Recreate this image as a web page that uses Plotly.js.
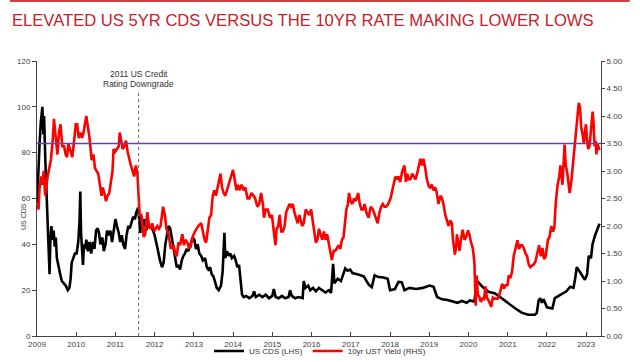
<!DOCTYPE html>
<html>
<head>
<meta charset="utf-8">
<script src="https://cdn.plot.ly/plotly-3.0.1.min.js"></script>
<style>html,body{margin:0;padding:0;background:#fff;}#chart{width:640px;height:362px;}</style>
</head>
<body>
<div id="chart"></div>
<script>
// ---- Data ----
const cdsDates = ['2009-01-02','2009-01-12','2009-01-25','2009-02-05','2009-02-20','2009-03-01','2009-03-08','2009-03-20','2009-04-01','2009-04-10','2009-04-20','2009-04-28','2009-05-05','2009-05-15','2009-05-25','2009-06-05','2009-06-15','2009-06-25','2009-07-05','2009-07-20','2009-08-05','2009-08-20','2009-09-05','2009-09-25','2009-10-15','2009-10-30','2009-11-10','2009-11-20','2009-12-05','2009-12-20',
'2010-01-05','2010-01-20','2010-02-01','2010-02-08','2010-02-15','2010-02-25','2010-03-05','2010-03-15','2010-03-25','2010-04-05','2010-04-20','2010-05-05','2010-05-20','2010-06-05','2010-06-20','2010-07-05','2010-07-20','2010-08-01','2010-08-15','2010-09-01','2010-09-15','2010-10-01','2010-10-15','2010-11-01','2010-11-15','2010-12-01','2010-12-15',
'2011-01-01','2011-01-15','2011-02-01','2011-02-15','2011-03-01','2011-03-15','2011-04-01','2011-04-15','2011-05-01','2011-05-15','2011-06-01','2011-06-15','2011-07-01','2011-07-15','2011-08-01','2011-08-10','2011-08-20','2011-09-01','2011-09-15','2011-10-01','2011-10-15','2011-11-01','2011-11-15','2011-12-01','2011-12-15',
'2012-01-01','2012-01-20','2012-02-05','2012-02-20','2012-03-10','2012-03-25','2012-04-10','2012-04-25','2012-05-10','2012-05-25','2012-06-10','2012-06-25','2012-07-10','2012-07-25','2012-08-10','2012-08-25','2012-09-10','2012-09-25','2012-10-10','2012-10-25','2012-11-10','2012-12-01','2012-12-20',
'2013-01-05','2013-01-20','2013-02-05','2013-02-20','2013-03-10','2013-03-25','2013-04-15','2013-05-01','2013-05-15','2013-06-01','2013-06-15','2013-07-01','2013-07-15','2013-08-01','2013-08-20','2013-09-10','2013-09-25','2013-10-05','2013-10-12','2013-10-20','2013-11-05','2013-11-20','2013-12-05','2013-12-20',
'2014-01-10','2014-01-25','2014-02-10','2014-02-25','2014-03-10','2014-03-25','2014-04-10','2014-05-01','2014-06-01','2014-07-01','2014-07-15','2014-08-01','2014-09-01','2014-10-01','2014-11-01','2014-12-01',
'2015-01-01','2015-01-15','2015-02-01','2015-03-01','2015-04-01','2015-05-01','2015-06-01','2015-06-15','2015-07-01','2015-08-01','2015-09-01','2015-10-10','2015-10-20','2015-11-05','2015-12-01','2015-12-20',
'2016-01-15','2016-02-10','2016-03-10','2016-04-10','2016-05-10','2016-06-10','2016-07-01','2016-07-20','2016-08-01','2016-09-01','2016-10-01','2016-11-10','2016-12-01','2016-12-25',
'2017-01-15','2017-03-01','2017-04-01','2017-05-01','2017-06-15','2017-07-15','2017-08-10','2017-09-15','2017-11-01','2017-12-10',
'2018-01-01','2018-02-15','2018-03-20','2018-04-20','2018-05-15','2018-07-01','2018-09-01','2018-11-01',
'2019-01-05','2019-02-10','2019-03-15','2019-05-01','2019-06-20','2019-08-01','2019-09-20','2019-11-01','2019-12-15',
'2020-01-15','2020-02-25','2020-03-18','2020-04-01','2020-05-10','2020-07-05','2020-09-05','2020-11-05',
'2021-01-05','2021-03-10','2021-05-10','2021-07-10','2021-09-10','2021-09-28','2021-10-15','2021-10-30','2021-11-15','2021-12-01',
'2022-01-01','2022-02-20','2022-03-15','2022-04-20','2022-05-25','2022-07-01','2022-08-05','2022-09-05','2022-09-20','2022-10-05','2022-10-20','2022-11-25','2022-12-20',
'2023-01-10','2023-01-25','2023-02-15','2023-03-01','2023-03-25','2023-04-15','2023-05-05'];
const cdsValues = [58,72,84,93,100,88,96,76,62,52,44,27,41,48,42,46,39,43,34,30,27,24,23,22,20,21,25,32,34,36,
36,41,50,63,45,37,31,40,38,42,37,41,36,41,38,46,47,45,40,43,37,40,46,44,46,41,46,
51,48,45,41,44,40,38,44,48,47,50,52,51,54,56,50,45,52,48,51,46,50,47,48,46,
44,40,36,33,30,32,40,44,48,47,43,38,34,30,31,29,33,35,36,38,37,40,43,
42,38,40,36,35,33,34,30,29,30,27,26,24,21,20,22,28,36,45,34,37,35,36,34,
35,33,30,31,24,18,17,17.5,16.5,17.5,19.5,17,18,17,18,16.5,
17.5,20.5,17,16.5,17.5,16.5,17,20,17.5,16.5,17,16.5,24,21,22,20,
21,19.5,21,20,19,20,18.8,31.5,23,25,24,29.5,28.5,29,
27.5,27,26.5,26,22.5,21.3,26.5,25.7,25.5,25,
20,20.5,23.6,23.5,20,21,20.5,21,
22,21.5,17,16,15.7,15,14.5,15.3,14.5,
15.5,15,23,23.5,21.5,19.3,18.6,16.4,
14.3,12.1,10.2,9.3,9.3,10,15.5,16.5,14.5,16,
12.5,12,16.5,17.5,18.5,19.5,21.5,21,25,30,29,26,24.5,
27,35,34,40,44,47,49];

const ustDates = ['2009-01-01','2009-01-15','2009-01-25','2009-02-10','2009-02-20','2009-03-05','2009-03-18','2009-03-28','2009-04-10','2009-04-25','2009-05-10','2009-05-25','2009-06-08','2009-06-20','2009-07-01','2009-07-10','2009-07-25','2009-08-08','2009-08-25','2009-09-10','2009-09-25','2009-10-08','2009-10-20','2009-11-05','2009-11-25','2009-12-10','2009-12-28',
'2010-01-10','2010-01-25','2010-02-10','2010-02-25','2010-03-10','2010-03-25','2010-04-05','2010-04-20','2010-05-05','2010-05-25','2010-06-10','2010-06-25','2010-07-10','2010-07-25','2010-08-10','2010-08-25','2010-09-05','2010-09-20','2010-10-05','2010-10-20','2010-11-05','2010-11-20','2010-12-05','2010-12-15','2010-12-30',
'2011-01-15','2011-02-01','2011-02-10','2011-02-25','2011-03-10','2011-03-25','2011-04-10','2011-04-25','2011-05-10','2011-05-25','2011-06-10','2011-06-25','2011-07-10','2011-07-25','2011-08-05','2011-08-15','2011-08-30','2011-09-10','2011-09-22','2011-10-05','2011-10-25','2011-11-10','2011-11-25','2011-12-10','2011-12-28',
'2012-01-10','2012-01-25','2012-02-10','2012-02-25','2012-03-20','2012-04-05','2012-04-20','2012-05-10','2012-05-30','2012-06-10','2012-06-25','2012-07-10','2012-07-25','2012-08-10','2012-08-25','2012-09-15','2012-09-30','2012-10-15','2012-11-01','2012-11-15','2012-12-01','2012-12-20',
'2013-01-10','2013-01-25','2013-02-10','2013-03-10','2013-03-25','2013-04-10','2013-04-25','2013-05-10','2013-05-25','2013-06-10','2013-06-25','2013-07-10','2013-07-25','2013-08-10','2013-08-25','2013-09-05','2013-09-20','2013-10-05','2013-10-20','2013-11-05','2013-11-20','2013-12-10','2013-12-31',
'2014-01-15','2014-02-01','2014-02-15','2014-03-01','2014-03-20','2014-04-10','2014-04-25','2014-05-15','2014-06-01','2014-06-20','2014-07-10','2014-07-25','2014-08-15','2014-09-01','2014-09-18','2014-10-05','2014-10-15','2014-11-01','2014-11-20','2014-12-10','2014-12-28',
'2015-01-15','2015-01-30','2015-02-10','2015-02-25','2015-03-10','2015-03-25','2015-04-10','2015-04-25','2015-05-10','2015-06-10','2015-06-25','2015-07-10','2015-07-25','2015-08-10','2015-08-25','2015-09-10','2015-09-25','2015-10-05','2015-10-20','2015-11-08','2015-11-25','2015-12-10','2015-12-28',
'2016-01-15','2016-02-10','2016-02-25','2016-03-10','2016-03-25','2016-04-10','2016-04-25','2016-05-10','2016-05-25','2016-06-10','2016-06-25','2016-07-08','2016-07-25','2016-08-10','2016-08-25','2016-09-10','2016-09-25','2016-10-10','2016-10-25','2016-11-09','2016-11-20','2016-12-05','2016-12-15','2016-12-30',
'2017-01-15','2017-01-30','2017-02-15','2017-03-10','2017-03-25','2017-04-10','2017-04-25','2017-05-10','2017-05-25','2017-06-15','2017-07-05','2017-07-25','2017-08-10','2017-09-08','2017-09-25','2017-10-10','2017-10-25','2017-11-10','2017-11-25','2017-12-15',
'2018-01-05','2018-01-20','2018-02-05','2018-02-20','2018-03-05','2018-03-20','2018-04-05','2018-04-25','2018-05-15','2018-05-29','2018-06-10','2018-06-25','2018-07-10','2018-07-25','2018-08-10','2018-08-25','2018-09-10','2018-09-25','2018-10-10','2018-10-25','2018-11-08','2018-11-25','2018-12-10','2018-12-28',
'2019-01-10','2019-01-25','2019-02-10','2019-02-25','2019-03-10','2019-03-28','2019-04-15','2019-04-30','2019-05-15','2019-05-30','2019-06-15','2019-06-30','2019-07-15','2019-07-30','2019-08-10','2019-08-28','2019-09-10','2019-09-15','2019-09-30','2019-10-10','2019-10-25','2019-11-08','2019-11-25','2019-12-10','2019-12-28',
'2020-01-10','2020-01-25','2020-02-10','2020-02-25','2020-03-05','2020-03-09','2020-03-18','2020-03-28','2020-04-10','2020-04-25','2020-05-10','2020-05-25','2020-06-08','2020-06-20','2020-07-10','2020-07-31','2020-08-15','2020-08-30','2020-09-15','2020-09-30','2020-10-15','2020-10-30','2020-11-10','2020-11-25','2020-12-10','2020-12-30',
'2021-01-10','2021-01-25','2021-02-10','2021-02-25','2021-03-10','2021-03-25','2021-04-01','2021-04-15','2021-04-30','2021-05-15','2021-05-30','2021-06-15','2021-06-30','2021-07-15','2021-07-30','2021-08-15','2021-08-30','2021-09-15','2021-09-30','2021-10-20','2021-11-05','2021-11-20','2021-12-05','2021-12-20',
'2022-01-10','2022-01-25','2022-02-10','2022-02-25','2022-03-10','2022-03-25','2022-04-10','2022-04-25','2022-05-06','2022-05-25','2022-06-14','2022-06-25','2022-07-10','2022-07-31','2022-08-15','2022-08-30','2022-09-15','2022-09-30','2022-10-10','2022-10-24','2022-11-05','2022-11-15','2022-11-30','2022-12-10','2022-12-20','2022-12-30',
'2023-01-10','2023-01-20','2023-02-01','2023-02-15','2023-03-02','2023-03-10','2023-03-20','2023-03-30','2023-04-06','2023-04-15','2023-04-28','2023-05-05'];
const ustValues = [2.4,2.3,2.7,2.9,2.75,3.0,2.55,2.75,2.9,3.05,3.2,3.5,3.95,3.7,3.5,3.3,3.7,3.85,3.45,3.45,3.3,3.25,3.5,3.4,3.25,3.5,3.85,
3.85,3.6,3.7,3.6,3.7,3.85,4.0,3.8,3.6,3.2,3.3,3.05,3.0,2.95,2.75,2.55,2.7,2.6,2.45,2.55,2.6,2.85,3.0,3.4,3.35,
3.4,3.45,3.7,3.5,3.4,3.45,3.55,3.35,3.2,3.1,3.0,2.9,3.1,2.95,2.55,2.2,2.2,1.95,1.8,1.85,2.25,2.0,1.95,2.05,1.9,
1.95,2.0,1.95,2.0,2.35,2.2,1.95,1.85,1.6,1.6,1.65,1.5,1.45,1.7,1.65,1.85,1.65,1.75,1.7,1.6,1.62,1.8,
1.9,1.95,2.0,2.05,1.9,1.75,1.7,1.9,2.15,2.2,2.55,2.65,2.55,2.7,2.85,2.95,2.7,2.6,2.55,2.65,2.75,2.85,3.02,
2.85,2.65,2.75,2.65,2.75,2.65,2.7,2.5,2.5,2.6,2.55,2.5,2.35,2.4,2.6,2.4,2.15,2.3,2.3,2.15,2.2,
1.85,1.65,1.95,2.0,2.2,1.9,1.9,2.0,2.25,2.4,2.35,2.4,2.25,2.15,2.05,2.2,2.1,2.0,2.05,2.3,2.25,2.2,2.3,
2.05,1.7,1.75,1.95,1.85,1.75,1.9,1.75,1.85,1.65,1.55,1.38,1.55,1.55,1.6,1.65,1.58,1.75,1.8,2.05,2.3,2.4,2.6,2.45,
2.4,2.5,2.45,2.6,2.4,2.3,2.3,2.4,2.25,2.15,2.35,2.3,2.2,2.05,2.25,2.35,2.4,2.35,2.35,2.4,
2.5,2.65,2.8,2.9,2.85,2.9,2.8,3.0,3.1,2.8,2.95,2.85,2.85,2.95,2.9,2.85,2.95,3.08,3.22,3.1,3.22,3.05,2.85,2.72,
2.7,2.75,2.65,2.7,2.62,2.4,2.55,2.5,2.38,2.2,2.1,2.0,2.1,2.05,1.75,1.48,1.65,1.85,1.68,1.55,1.78,1.93,1.75,1.8,1.92,
1.85,1.7,1.6,1.35,0.8,0.55,1.1,0.75,0.72,0.62,0.68,0.67,0.9,0.7,0.63,0.53,0.7,0.68,0.68,0.68,0.75,0.85,0.95,0.86,0.92,0.93,
1.1,1.05,1.17,1.45,1.55,1.65,1.74,1.58,1.65,1.65,1.6,1.5,1.45,1.3,1.25,1.28,1.3,1.35,1.5,1.65,1.45,1.6,1.4,1.45,
1.75,1.8,2.0,1.9,1.95,2.45,2.75,2.9,3.1,2.75,3.48,3.1,2.95,2.6,2.8,3.1,3.45,3.8,3.95,4.24,4.15,3.8,3.65,3.5,3.7,3.85,
3.55,3.4,3.45,3.8,4.08,3.9,3.45,3.55,3.3,3.5,3.42,3.38];

const seriesNames = ['US CDS (LHS)', '10yr UST Yield (RHS)'];
const leftTicks = [0,20,40,60,80,100,120];
const rightTicks = [0,0.5,1,1.5,2,2.5,3,3.5,4,4.5,5];
const referenceLevel = 3.5;          // horizontal line, RHS
const downgradeDate = '2011-08-05';  // 2011 US credit rating downgrade
const xStart = '2009-01-01', xEnd = '2023-05-19';

const FONT = 'Liberation Sans, Arial, sans-serif';

const traces = [
  {x: ustDates, y: ustValues, name: seriesNames[1], type: 'scatter', mode: 'lines',
   yaxis: 'y2', line: {color: '#ff0000', width: 2.6}},
  {x: cdsDates, y: cdsValues, name: seriesNames[0], type: 'scatter', mode: 'lines',
   line: {color: '#000000', width: 2.6}}
];

const layout = {
  width: 640, height: 362,
  margin: {l: 37, r: 39, t: 61, b: 26, autoexpand: false},
  paper_bgcolor: '#ffffff', plot_bgcolor: '#ffffff',
  font: {family: FONT, size: 8, color: '#404040'},
  title: {text: 'ELEVATED US 5YR CDS VERSUS THE 10YR RATE MAKING LOWER LOWS',
    x: 12/640, xref: 'container', xanchor: 'left',
    y: 1 - 20.5/362, yref: 'container', yanchor: 'middle',
    font: {family: FONT, size: 16.6, color: '#c8202a'}},
  showlegend: true,
  legend: {orientation: 'h', x: 0.5, xanchor: 'center', xref: 'container',
    y: 1 - 351/362, yanchor: 'middle', yref: 'container',
    bgcolor: 'rgba(0,0,0,0)', traceorder: 'reversed', font: {size: 8, color: '#333'},
    itemwidth: 30},
  xaxis: {type: 'date', range: [xStart, xEnd], tickformat: '%Y', dtick: 'M12', tick0: '2009-01-01',
    showgrid: false, zeroline: false, showline: true, linecolor: '#444', linewidth: 1,
    ticks: 'inside', ticklen: 4, tickcolor: '#444', tickfont: {size: 8, color: '#404040'}},
  yaxis: {range: [0, 120], tickvals: leftTicks, showgrid: false, zeroline: false,
    showline: true, linecolor: '#444', linewidth: 1, ticks: 'outside', ticklen: 4, tickcolor: '#444',
    tickfont: {size: 8, color: '#404040'}},
  yaxis2: {range: [0, 5], tickvals: rightTicks, tickformat: '.2f', overlaying: 'y', side: 'right',
    showgrid: false, zeroline: false, showline: true, linecolor: '#444', linewidth: 1,
    ticks: 'outside', ticklen: 3, tickcolor: '#444', tickfont: {size: 8, color: '#404040'}},
  shapes: [
    {type: 'line', xref: 'paper', yref: 'y2', x0: 0, x1: 1, y0: referenceLevel, y1: referenceLevel,
     line: {color: '#6a40a8', width: 1.6}},
    {type: 'line', xref: 'x', yref: 'paper', x0: downgradeDate, x1: downgradeDate, y0: 0, y1: 0.895,
     line: {color: '#666', width: 1, dash: 'dot'}},
    {type: 'line', xref: 'paper', yref: 'paper', x0: -0.048, x1: 1.051, y0: 1.218, y1: 1.218,
     line: {color: '#c00000', width: 1.5}}
  ],
  annotations: [
    {text: '2011 US Credit', xref: 'x', yref: 'paper', x: downgradeDate, y: (336-74)/275,
     showarrow: false, xanchor: 'center', yanchor: 'middle', font: {size: 8.5, color: '#333'}},
    {text: 'Rating Downgrade', xref: 'x', yref: 'paper', x: downgradeDate, y: (336-83.5)/275,
     showarrow: false, xanchor: 'center', yanchor: 'middle', font: {size: 8.5, color: '#333'}},
    {text: 'US CDS', xref: 'paper', yref: 'paper', x: (23-37)/564, y: (336-217)/275, textangle: -90,
     showarrow: false, xanchor: 'center', yanchor: 'middle', font: {size: 7, color: '#404040'}}
  ]
};

Plotly.newPlot('chart', traces, layout, {displayModeBar: false, staticPlot: true});
</script>
</body>
</html>
